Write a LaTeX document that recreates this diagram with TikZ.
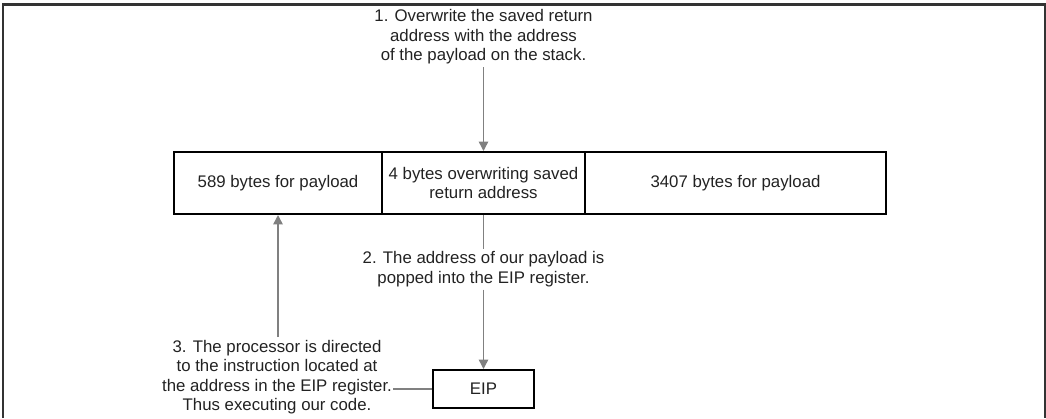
\documentclass[tikz,border=0pt]{standalone}
\usepackage{fontspec}
\setmainfont{Liberation Sans}
\usetikzlibrary{arrows.meta}
\definecolor{framec}{HTML}{333333}
\definecolor{arrc}{HTML}{808080}
\definecolor{txtc}{HTML}{222222}
\begin{document}
\begin{tikzpicture}[x=0.75pt,y=-0.75pt,
  every node/.style={font=\fontsize{12.6pt}{14.6pt}\selectfont, text=txtc},
  cell/.style={draw=black, line width=1.5pt, minimum height=62*0.75pt, inner sep=0pt, align=center},
  note/.style={align=center, inner sep=2pt},
  conn/.style={draw=arrc, line width=1.1pt},
  arr/.style={conn, -{Triangle[length=7pt,width=7pt]}}]
\useasboundingbox (0,0) rectangle (1046,418);
\draw[framec, line width=1.6pt] (3,418) -- (3,4.5) -- (1045,4.5) -- (1045,418);
\node[cell, minimum width=208*0.75pt] (b1) at (278,183) {589 bytes for payload};
\node[cell, minimum width=203*0.75pt] (b2) at (483.5,183) {4 bytes overwriting saved\\return address};
\node[cell, minimum width=301*0.75pt] (b3) at (735.5,183) {3407 bytes for payload};
\node[cell, minimum width=101*0.75pt, minimum height=38*0.75pt] (eip) at (483.5,389) {EIP};
\node[note] (t1) at (483.5,37) {1. Overwrite the saved return\\address with the address\\of the payload on the stack.};
\node[note] (t2) at (483.5,269) {2. The address of our payload is\\popped into the EIP register.};
\node[note] (t3) at (277,377) {3. The processor is directed\\to the instruction located at\\the address in the EIP register.\\Thus executing our code.};
\coordinate (t3end) at (393,389);
\draw[arr] (t1.south) -- (b2.north);
\draw[conn] (b2.south) -- (t2.north);
\draw[arr] (t2.south) -- (eip.north);
\draw[arr] (t3.north -| b1.south) -- (b1.south);
\draw[conn] (eip.west) -- (t3end);
\end{tikzpicture}
\end{document}
